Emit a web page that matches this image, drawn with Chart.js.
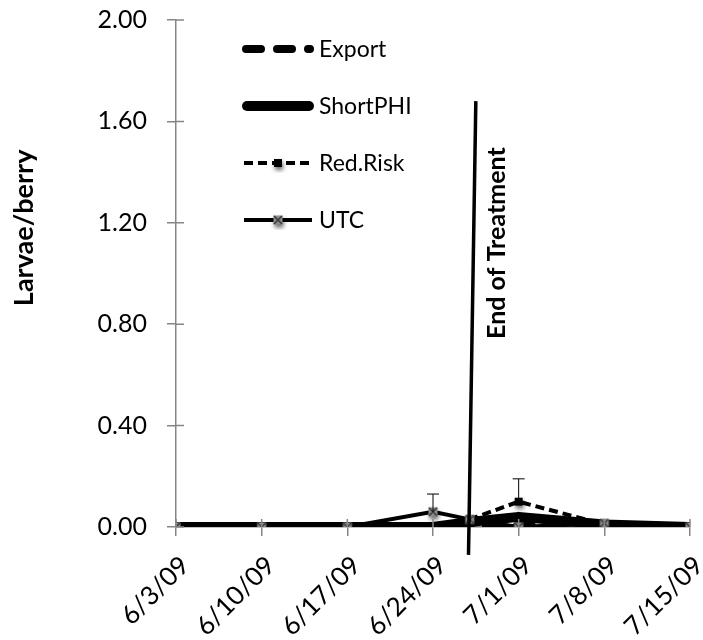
<!DOCTYPE html>
<html>
<head>
<meta charset="utf-8">
<script src="https://cdn.jsdelivr.net/npm/chart.js@4.4.1/dist/chart.umd.min.js"></script>
<style>
  body { margin: 0; background: #fff; }
  #wrap { width: 703px; height: 640px; }
</style>
</head>
<body>
<div id="wrap"><canvas id="larvaeChart" width="703" height="640"></canvas></div>
<script>
// sampling dates, as days after 6/3/09
var sampleDays = [0, 7, 14, 21, 24, 28, 35, 42];
var tickLabels = ['6/3/09', '6/10/09', '6/17/09', '6/24/09', '7/1/09', '7/8/09', '7/15/09'];

var exportVals   = [0, 0, 0, 0, 0, 0.005, 0, 0];
var shortPhiVals = [0, 0, 0, 0, 0.02, 0.04, 0.01, 0];
var redRiskVals  = [0, 0, 0, 0, 0.03, 0.10, 0.01, 0];
var utcVals      = [0, 0, 0, 0.06, 0.03, 0, 0.015, 0];

// plus-direction error bars
var redRiskErr = [0, 0, 0, 0, 0, 0.09, 0, 0];
var utcErr     = [0, 0, 0, 0.07, 0, 0, 0, 0];

// "End of Treatment" line, top and bottom end (x in days, y in larvae/berry)
var treatmentX = [24.5, 23.9];
var treatmentY = [1.68, -0.11];

var FONT = 'Lato, "Open Sans", sans-serif';

function pts(vals) {
    return vals.map(function(v, i) { return { x: sampleDays[i], y: v }; });
}

// marker images with the soft drop shadow excel puts under them
function makeMarker(kind) {
    var c = document.createElement('canvas');
    c.width = 20; c.height = 20;
    var g = c.getContext('2d');
    g.shadowColor = 'rgba(0,0,0,0.6)';
    g.shadowBlur = 4;
    g.shadowOffsetX = 1;
    g.shadowOffsetY = 3;
    if (kind === 'square') {
        g.fillStyle = '#000';
        g.fillRect(6, 6, 8, 8);
    } else {
        g.fillStyle = '#8c8c8c';
        g.fillRect(5.5, 5.5, 9, 9);
        g.shadowColor = 'transparent';
        g.strokeStyle = '#3a3a3a';
        g.lineWidth = 1.6;
        g.beginPath();
        g.moveTo(6, 6); g.lineTo(14, 14);
        g.moveTo(14, 6); g.lineTo(6, 14);
        g.stroke();
    }
    return c;
}
var squareMarker = makeMarker('square');
var crossMarker = makeMarker('cross');

// cross ticks: draw the inner half of each axis tick
var innerTicks = {
    id: 'innerTicks',
    afterDraw: function(chart) {
        var ctx = chart.ctx, xs = chart.scales.x, ys = chart.scales.y;
        ctx.save();
        ctx.strokeStyle = '#868686';
        ctx.lineWidth = 1.5;
        ctx.beginPath();
        xs.ticks.forEach(function(t) {
            var px = xs.getPixelForValue(t.value);
            ctx.moveTo(px, ys.bottom); ctx.lineTo(px, ys.bottom - 8);
        });
        ys.ticks.forEach(function(t) {
            var py = ys.getPixelForValue(t.value);
            ctx.moveTo(xs.left, py); ctx.lineTo(xs.left + 8, py);
        });
        ctx.stroke();
        ctx.restore();
    }
};

var errorBars = {
    id: 'errorBars',
    afterDatasetsDraw: function(chart) {
        var ctx = chart.ctx, xs = chart.scales.x, ys = chart.scales.y;
        ctx.save();
        ctx.strokeStyle = '#000';
        ctx.lineWidth = 1;
        chart.data.datasets.forEach(function(ds) {
            if (!ds.errPlus) return;
            ds.data.forEach(function(p, i) {
                var e = ds.errPlus[i];
                if (!e) return;
                var px = xs.getPixelForValue(p.x);
                var y0 = ys.getPixelForValue(p.y);
                var y1 = ys.getPixelForValue(p.y + e);
                ctx.beginPath();
                ctx.moveTo(px, y0); ctx.lineTo(px, y1);
                ctx.moveTo(px - 6, y1); ctx.lineTo(px + 6, y1);
                ctx.stroke();
            });
        });
        ctx.restore();
    }
};

// rotated texts: the treatment label and the y axis title
var sideTexts = {
    id: 'sideTexts',
    afterDatasetsDraw: function(chart) {
        var ctx = chart.ctx, xs = chart.scales.x, ys = chart.scales.y;
        ctx.save();
        ctx.fillStyle = '#000';
        ctx.textAlign = 'center';
        ctx.textBaseline = 'middle';

        ctx.save();
        ctx.translate(xs.getPixelForValue(26.2), ys.getPixelForValue(1.12));
        ctx.rotate(-Math.PI / 2);
        ctx.font = 'bold 25px ' + FONT;
        ctx.fillText('End of Treatment', 0, 0);
        ctx.restore();

        ctx.save();
        ctx.translate(24, ys.getPixelForValue(1.18));
        ctx.rotate(-Math.PI / 2);
        ctx.font = 'bold 27px ' + FONT;
        ctx.fillText('Larvae/berry', 0, 0);
        ctx.restore();

        ctx.restore();
    }
};

// excel style legend floating in the plot
var floatLegend = {
    id: 'floatLegend',
    afterDraw: function(chart) {
        var ctx = chart.ctx, area = chart.chartArea;
        var x0 = area.left + 66, x1 = area.left + 138, y = 49;
        ctx.save();
        ctx.font = '23px ' + FONT;
        ctx.textBaseline = 'middle';
        ctx.fillStyle = '#000';
        chart.data.datasets.forEach(function(ds) {
            if (!ds.legendLabel) return;
            ctx.save();
            ctx.strokeStyle = '#000';
            ctx.lineWidth = ds.borderWidth;
            ctx.lineCap = ds.borderCapStyle || 'butt';
            ctx.setLineDash(ds.borderDash || []);
            ctx.beginPath();
            ctx.moveTo(x0 + ds.borderWidth / 2, y);
            ctx.lineTo(x1 - ds.borderWidth / 2, y);
            ctx.stroke();
            ctx.restore();
            if (ds.pointStyle instanceof HTMLCanvasElement) {
                ctx.drawImage(ds.pointStyle, (x0 + x1) / 2 - 10, y - 10);
            }
            ctx.fillText(ds.legendLabel, x1 + 5, y + 1);
            y += 57;
        });
        ctx.restore();
    }
};

var ctx = document.getElementById('larvaeChart').getContext('2d');

var chart = new Chart(ctx, {
    type: 'line',
    data: {
        datasets: [
            {
                legendLabel: 'Export',
                data: pts(exportVals),
                borderColor: '#000',
                borderWidth: 8,
                borderDash: [15, 16],
                borderCapStyle: 'round',
                pointRadius: 0,
                order: 4
            },
            {
                legendLabel: 'ShortPHI',
                data: pts(shortPhiVals),
                borderColor: '#000',
                borderWidth: 10,
                borderCapStyle: 'round',
                borderJoinStyle: 'round',
                pointRadius: 0,
                order: 3
            },
            {
                legendLabel: 'Red.Risk',
                data: pts(redRiskVals),
                errPlus: redRiskErr,
                borderColor: '#000',
                borderWidth: 4,
                borderDash: [9, 5],
                pointStyle: squareMarker,
                order: 2
            },
            {
                legendLabel: 'UTC',
                data: pts(utcVals),
                errPlus: utcErr,
                borderColor: '#000',
                borderWidth: 4,
                pointStyle: crossMarker,
                order: 1
            },
            {
                data: treatmentX.map(function(x, i) { return { x: x, y: treatmentY[i] }; }),
                borderColor: '#000',
                borderWidth: 3.5,
                pointRadius: 0,
                clip: false,
                order: 0
            }
        ]
    },
    options: {
        responsive: false,
        animation: false,
        events: [],
        layout: { padding: { top: 20, right: 13, left: 0, bottom: 0 } },
        plugins: {
            legend: { display: false },
            tooltip: { enabled: false }
        },
        scales: {
            x: {
                type: 'linear',
                min: 0,
                max: 42,
                afterFit: function(scale) {
                    scale.height = 113;
                    scale.paddingLeft = 0;
                    scale.paddingRight = 0;
                },
                afterBuildTicks: function(scale) {
                    scale.ticks = tickLabels.map(function(l, i) { return { value: i * 7 }; });
                },
                border: { color: '#868686', width: 1.5 },
                grid: { drawOnChartArea: false, color: '#868686', lineWidth: 1.5, tickLength: 9 },
                ticks: {
                    autoSkip: false,
                    minRotation: 45,
                    maxRotation: 45,
                    padding: 14,
                    labelOffset: 9,
                    color: '#000',
                    font: { family: FONT, size: 26 },
                    callback: function(v) { return tickLabels[Math.round(v / 7)]; }
                }
            },
            y: {
                min: 0,
                max: 2,
                afterFit: function(scale) {
                    scale.width = 176;
                    scale.paddingTop = 0;
                    scale.paddingBottom = 0;
                },
                border: { color: '#868686', width: 1.5 },
                grid: { drawOnChartArea: false, color: '#868686', lineWidth: 1.5, tickLength: 9 },
                ticks: {
                    stepSize: 0.4,
                    padding: 20,
                    color: '#000',
                    font: { family: FONT, size: 25 },
                    callback: function(v) { return v.toFixed(2); }
                }
            }
        }
    },
    plugins: [innerTicks, errorBars, sideTexts, floatLegend]
});
</script>
</body>
</html>
